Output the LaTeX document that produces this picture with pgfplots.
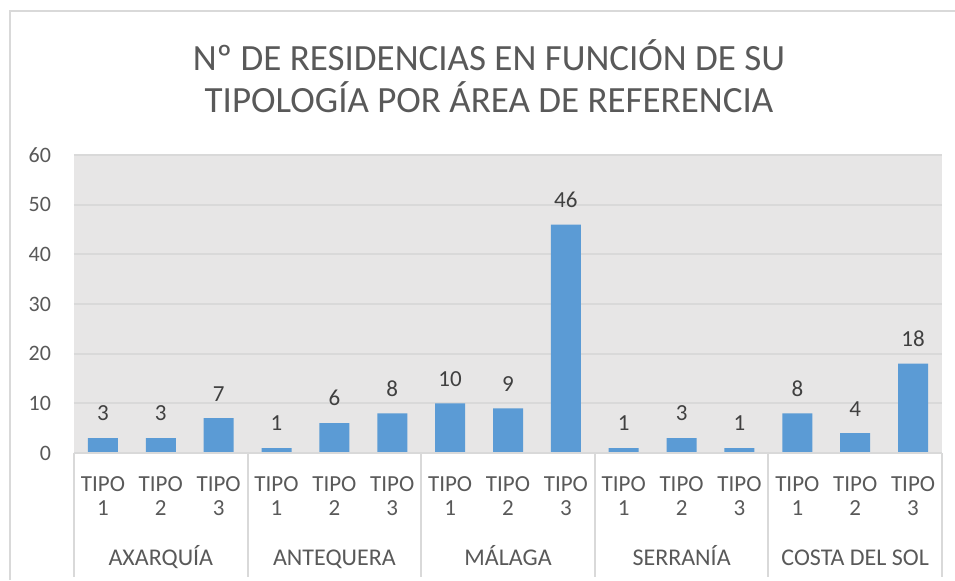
\documentclass[border=0pt]{standalone}
\usepackage{pgfplots}
\pgfplotsset{compat=1.18}
\usepackage{fontspec}
\setmainfont{Carlito}
\definecolor{barblue}{HTML}{5B9BD5}
\definecolor{plotbg}{HTML}{E7E6E6}
\definecolor{gridc}{HTML}{D9D9D9}
\definecolor{txt}{HTML}{595959}
\definecolor{lbl}{HTML}{404040}
\definecolor{framec}{HTML}{D9D9D9}

\begin{document}
\begin{tikzpicture}
% page = 955x580 px at 0.5pt per px
\useasboundingbox (0,0) rectangle (477.5pt,-290pt);
\draw[framec, line width=0.8pt] (5pt,-290pt) -- (5pt,-5.5pt) -- (477.5pt,-5.5pt);

\node[txt, font=\fontsize{18.5}{21}\selectfont, align=center] at (244.5pt,-38pt)
  {Nº DE RESIDENCIAS EN FUNCIÓN DE SU\\TIPOLOGÍA POR ÁREA DE REFERENCIA};

\begin{axis}[
    at={(37pt,-226.5pt)}, anchor=south west,
    scale only axis,
    width=434pt, height=149pt,
    xmin=-0.5, xmax=14.5,
    ymin=0, ymax=60,
    ytick={0,10,...,60},
    xtick={0,...,14},
    xticklabels={{TIPO\\1},{TIPO\\2},{TIPO\\3},{TIPO\\1},{TIPO\\2},{TIPO\\3},{TIPO\\1},{TIPO\\2},{TIPO\\3},{TIPO\\1},{TIPO\\2},{TIPO\\3},{TIPO\\1},{TIPO\\2},{TIPO\\3}},
    xticklabel style={align=center, font=\fontsize{11.5}{12.5}\selectfont, text=txt, yshift=-8pt},
    yticklabel style={font=\fontsize{11}{12}\selectfont, text=txt, xshift=-8pt},
    /pgf/number format/assume math mode=true,
    major tick length=0pt,
    axis line style={draw=none},
    axis background/.style={fill=plotbg},
    ymajorgrids=true,
    grid style={gridc, line width=1pt},
    clip=false,
    ybar, bar width=15pt,
    nodes near coords,
    nodes near coords style={font=\fontsize{11.5}{12}\selectfont, text=lbl, yshift=5pt},
]
\addplot[fill=barblue, draw=none] coordinates {
  (0,3) (1,3) (2,7)
  (3,1) (4,6) (5,8)
  (6,10) (7,9) (8,46)
  (9,1) (10,3) (11,1)
  (12,8) (13,4) (14,18)
};
\draw[gridc, line width=1pt] (axis cs:-0.5,0) -- (axis cs:14.5,0);
\pgfplotsinvokeforeach{-0.5,2.5,5.5,8.5,11.5,14.5}{
  \draw[gridc, line width=1pt] (axis cs:#1,0) -- ([yshift=-62pt]axis cs:#1,0);
}
\node[txt, font=\fontsize{12}{13}\selectfont, anchor=base] at ([yshift=-56pt]axis cs:1,0) {AXARQUÍA};
\node[txt, font=\fontsize{12}{13}\selectfont, anchor=base] at ([yshift=-56pt]axis cs:4,0) {ANTEQUERA};
\node[txt, font=\fontsize{12}{13}\selectfont, anchor=base] at ([yshift=-56pt]axis cs:7,0) {MÁLAGA};
\node[txt, font=\fontsize{12}{13}\selectfont, anchor=base] at ([yshift=-56pt]axis cs:10,0) {SERRANÍA};
\node[txt, font=\fontsize{12}{13}\selectfont, anchor=base] at ([yshift=-56pt]axis cs:13,0) {COSTA DEL SOL};
\end{axis}
\end{tikzpicture}
\end{document}
